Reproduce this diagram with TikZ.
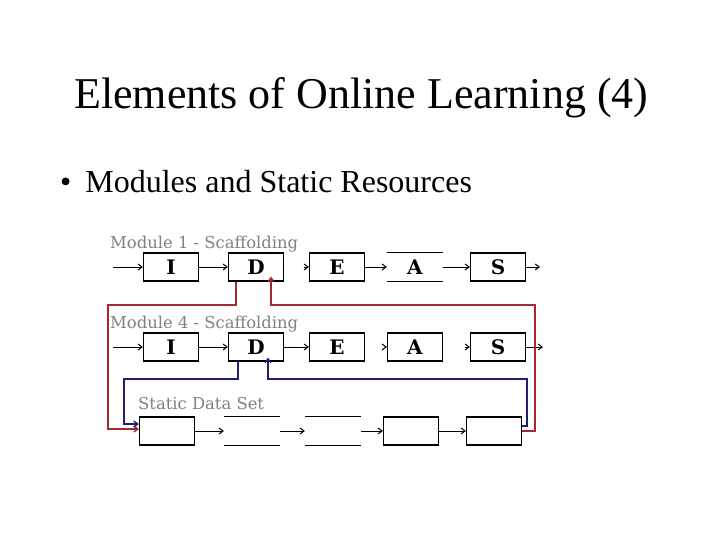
\documentclass[tikz,border=0pt]{standalone}
\usepackage{fontspec}
\setmainfont{Liberation Serif}
\newfontfamily\labfont{DejaVu Serif}
\newfontfamily\boxfont{DejaVu Serif}
\usetikzlibrary{positioning,arrows.meta}

\definecolor{labgray}{RGB}{128,128,128}
\definecolor{linkred}{RGB}{165,40,45}
\definecolor{linkblue}{RGB}{30,30,115}

\tikzset{
  >={Straight Barb[length=4pt,width=6pt]},
  blk/.style={draw,line width=1.2pt,minimum width=55pt,minimum height=28pt,inner sep=0pt,
    font=\boxfont\bfseries\fontsize{20}{20}\selectfont},
  openblk/.style={blk,draw=none},
  lab/.style={anchor=base west,inner sep=0pt,text=labgray,font=\labfont\fontsize{16.4}{16.4}\selectfont},
  flow/.style={->,line width=1pt},
  redln/.style={->,draw=linkred,line width=1.3pt},
  blueln/.style={->,draw=linkblue,line width=1.3pt}
}

\begin{document}
\begin{tikzpicture}[x=1pt,y=-1pt,on grid]
	\useasboundingbox (0,0) rectangle (720,540);

	\node[anchor=base west,inner sep=0pt,font=\fontsize{44}{44}\selectfont] (title) at (74,109) {Elements of Online Learning (4)};
	\node[anchor=base west,inner sep=0pt,font=\fontsize{32}{32}\selectfont] (item) at (60,193) {\textbullet\hspace{14pt}Modules and Static Resources};

	% Module 1
	\node[lab] (m1) at (110,248) {Module 1 - Scaffolding};
	\node[blk] (I1) at (171,267) {I};
	\node[blk] (D1) [right=85pt of I1] {D};
	\node[blk] (E1) [right=81pt of D1] {E};
	\node[openblk] (A1) [right=78pt of E1] {A};
	\node[blk] (S1) [right=83pt of A1] {S};
	\coordinate (in1) at (113,267);
	\coordinate (out1) at (540,267);

	% Module 4
	\node[lab] (m4) at (110,328) {Module 4 - Scaffolding};
	\node[blk] (I4) at (171,347) {I};
	\node[blk] (D4) [right=85pt of I4] {D};
	\node[blk] (E4) [right=81pt of D4] {E};
	\node[blk] (A4) [right=78pt of E4] {A};
	\node[blk] (S4) [right=83pt of A4] {S};
	\coordinate (in4) at (113,347);
	\coordinate (out4) at (543,347);

	% Static Data Set
	\node[lab] (sd) at (138,409) {Static Data Set};
	\node[blk] (SD1) at (167,431) {};
	\node[openblk] (SD2) [right=85pt of SD1] {};
	\node[openblk] (SD3) [right=81pt of SD2] {};
	\node[blk] (SD4) [right=78pt of SD3] {};
	\node[blk] (SD5) [right=83pt of SD4] {};

	\foreach \b in {A1,SD2,SD3}
		\draw[line width=1.2pt] (\b.north west) -- (\b.north east) (\b.south west) -- (\b.south east);

	\path[flow]
	(in1) edge (I1)
	(I1) edge (D1)
	(D1) edge[shorten <=20pt] (E1)
	(E1) edge (A1)
	(A1) edge (S1)
	(S1) edge (out1)
	(in4) edge (I4)
	(I4) edge (D4)
	(D4) edge (E4)
	(E4) edge[shorten <=20pt] (A4)
	(A4) edge[shorten <=22pt] (S4)
	(S4) edge (out4)
	(SD1) edge (SD2)
	(SD2) edge (SD3)
	(SD3) edge (SD4)
	(SD4) edge (SD5);

	% feedback links
	\coordinate (redL) at (108,305);
	\coordinate (redR) at (535,305);
	\coordinate (blueL) at (124,379);
	\coordinate (blueR) at (527,379);

	\draw[redln] ([xshift=-20pt]D1.south) |- (redL) |- ([yshift=2pt]SD1.west);
	\draw[redln] (SD5.east) -| (redR) -| ([xshift=15pt,yshift=5pt]D1.south);
	\draw[blueln] ([xshift=-18pt]D4.south) |- (blueL) |- ([yshift=7pt]SD1.west);
	\draw[blueln] ([yshift=5pt]SD5.east) -| (blueR) -| ([xshift=12pt,yshift=4pt]D4.south);

\end{tikzpicture}
\end{document}
